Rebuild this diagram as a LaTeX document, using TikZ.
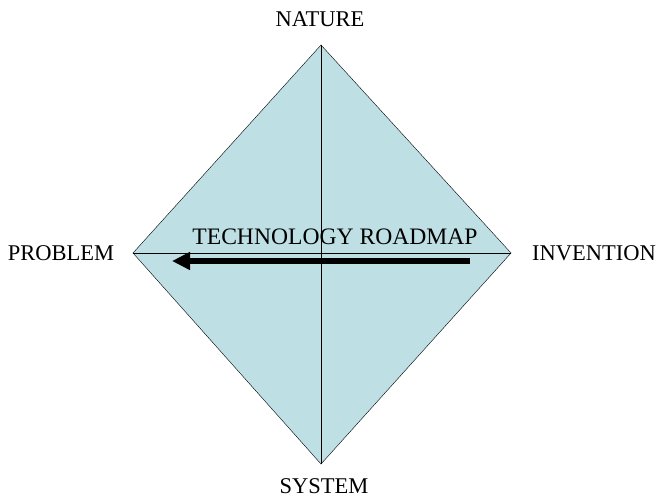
\documentclass[tikz,border=0pt]{standalone}
\usepackage{fontspec}
\setmainfont{Liberation Serif}
\usetikzlibrary{arrows.meta}
\definecolor{kitefill}{RGB}{190,224,228}
\begin{document}
\begin{tikzpicture}[x=1pt, y=-1pt, corner/.style = {font=\fontsize{22.5}{26}\selectfont, inner sep=0pt}]
    \useasboundingbox (0,0) rectangle (660,499);
    \coordinate (t) at (321,45);
    \coordinate (l) at (133,253);
    \coordinate (r) at (511,253);
    \coordinate (b) at (321,464);
    \coordinate (s) at (470,261);
    \coordinate (e) at (172,261);
    \fill[kitefill] (t) -- (r) -- (b) -- (l) -- cycle;
    \draw (t) -- (b);
    \draw (l) -- (r);
    \draw (t) -- (r) -- (b) -- (l) -- cycle;
    \draw[line width=6pt, -{Triangle[length=18pt, width=17pt]}] (s) -- (e);
    \node[corner] (nature) at (320,19) {NATURE};
    \node[corner] (problem) at (61,253.5) {PROBLEM};
    \node[corner] (invention) at (594,253.5) {INVENTION};
    \node[corner] (system) at (324,486.5) {SYSTEM};
    \node[corner, font=\fontsize{23.6}{27}\selectfont] (roadmap) at (335,237) {TECHNOLOGY ROADMAP};
\end{tikzpicture}
\end{document}
